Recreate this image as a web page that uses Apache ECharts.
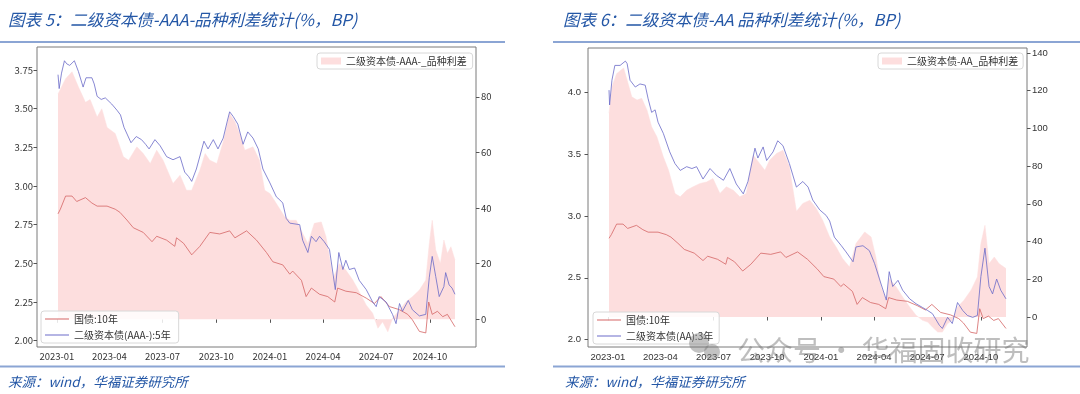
<!DOCTYPE html>
<html><head><meta charset="utf-8">
<script src="https://cdn.jsdelivr.net/npm/echarts@6/dist/echarts.min.js"></script>
<style>html,body{margin:0;padding:0;background:#fff;}#c{width:1080px;height:394px;}</style>
</head><body><div id="c"></div>
<script>
// ---------- data ----------
const govDates = ['2023-01-03','2023-01-07','2023-01-16','2023-01-27','2023-02-04','2023-02-19','2023-03-02','2023-03-11','2023-03-28','2023-04-11','2023-04-19','2023-05-01','2023-05-12','2023-05-29','2023-06-13','2023-06-21','2023-07-08','2023-07-22','2023-07-25','2023-08-06','2023-08-20','2023-09-03','2023-09-20','2023-10-07','2023-10-24','2023-11-02','2023-11-22','2023-12-09','2023-12-26','2024-01-06','2024-01-23','2024-02-04','2024-02-09','2024-02-24','2024-03-03','2024-03-12','2024-03-26','2024-04-09','2024-04-21','2024-04-26','2024-05-10','2024-05-28','2024-06-14','2024-06-28','2024-07-09','2024-07-24','2024-08-10','2024-08-24','2024-09-01','2024-09-13','2024-09-24','2024-09-29','2024-10-05','2024-10-14','2024-10-23','2024-10-31','2024-11-13'];
const govYield = [2.82,2.85,2.935,2.935,2.90,2.925,2.89,2.87,2.87,2.85,2.83,2.78,2.73,2.70,2.64,2.675,2.65,2.61,2.665,2.63,2.555,2.61,2.70,2.69,2.71,2.665,2.71,2.65,2.57,2.51,2.49,2.43,2.45,2.39,2.285,2.34,2.30,2.285,2.25,2.34,2.32,2.31,2.275,2.24,2.285,2.22,2.20,2.17,2.135,2.06,2.05,2.25,2.17,2.19,2.155,2.17,2.09];

const aaaDates = ['2023-01-03','2023-01-05','2023-01-09','2023-01-14','2023-01-18','2023-01-23','2023-01-31','2023-02-07','2023-02-15','2023-02-20','2023-03-02','2023-03-06','2023-03-11','2023-03-18','2023-03-25','2023-04-05','2023-04-14','2023-04-20','2023-04-26','2023-05-02','2023-05-08','2023-05-17','2023-05-26','2023-06-02','2023-06-08','2023-06-18','2023-06-27','2023-07-08','2023-07-19','2023-07-31','2023-08-08','2023-08-15','2023-08-20','2023-08-28','2023-09-10','2023-09-17','2023-09-26','2023-10-04','2023-10-13','2023-10-20','2023-10-24','2023-10-30','2023-11-07','2023-11-16','2023-11-24','2023-12-03','2023-12-12','2023-12-20','2024-01-01','2024-01-12','2024-01-18','2024-01-23','2024-01-29','2024-02-04','2024-02-21','2024-02-26','2024-03-06','2024-03-12','2024-03-20','2024-03-26','2024-04-03','2024-04-12','2024-04-22','2024-04-28','2024-05-05','2024-05-10','2024-05-16','2024-05-25','2024-06-02','2024-06-14','2024-06-25','2024-07-01','2024-07-06','2024-07-18','2024-07-29','2024-08-04','2024-08-10','2024-08-15','2024-08-25','2024-09-01','2024-09-13','2024-09-24','2024-09-30','2024-10-05','2024-10-11','2024-10-17','2024-10-25','2024-10-28','2024-11-03','2024-11-08','2024-11-13'];
const aaaYield = [3.72,3.63,3.73,3.81,3.79,3.78,3.81,3.74,3.64,3.70,3.70,3.66,3.58,3.56,3.57,3.53,3.49,3.46,3.38,3.33,3.28,3.32,3.30,3.27,3.24,3.30,3.26,3.19,3.17,3.19,3.09,3.06,3.03,3.11,3.29,3.24,3.30,3.24,3.31,3.42,3.48,3.45,3.40,3.27,3.35,3.31,3.24,3.11,3.02,2.93,2.91,2.89,2.79,2.76,2.75,2.65,2.57,2.675,2.64,2.675,2.64,2.59,2.33,2.57,2.46,2.52,2.46,2.47,2.39,2.33,2.25,2.22,2.285,2.25,2.17,2.11,2.24,2.19,2.26,2.20,2.16,2.17,2.41,2.545,2.415,2.285,2.35,2.44,2.36,2.34,2.30];

const aaaSpreadDates = ['2023-01-03','2023-01-16','2023-01-27','2023-02-07','2023-02-19','2023-02-27','2023-03-11','2023-03-19','2023-03-28','2023-04-11','2023-04-25','2023-05-04','2023-05-18','2023-05-29','2023-06-10','2023-06-21','2023-07-02','2023-07-19','2023-07-31','2023-08-11','2023-08-20','2023-09-03','2023-09-12','2023-09-20','2023-10-02','2023-10-13','2023-10-24','2023-11-02','2023-11-10','2023-11-19','2023-12-03','2023-12-14','2023-12-23','2024-01-01','2024-01-12','2024-01-26','2024-02-04','2024-02-15','2024-02-26','2024-03-06','2024-03-17','2024-03-29','2024-04-06','2024-04-18','2024-04-29','2024-05-10','2024-05-22','2024-06-02','2024-06-14','2024-06-25','2024-07-04','2024-07-12','2024-07-21','2024-07-29','2024-08-10','2024-08-21','2024-09-01','2024-09-13','2024-09-24','2024-09-30','2024-10-05','2024-10-11','2024-10-19','2024-10-25','2024-10-31','2024-11-06','2024-11-13'];
const aaaSpread = [81,86.5,89,83.5,78,79,72.7,75.7,69,66.8,58.4,57.2,62,59.6,56,60.8,57.2,48.8,51.8,46.4,46.4,53.6,59.6,57.2,56,63.8,74,71,66.8,60.8,62,57.2,46.4,45.2,41.6,37,35.6,35.6,30.9,27.3,34.5,35,29.7,14.7,20,17.7,14.1,9.9,5.1,2.2,-3.2,-0.9,-4.5,0.4,3.3,6.3,8.1,10.5,14.1,27.3,35.6,24.9,20.1,28.5,23.7,26.1,21.3];

const aaDates = ['2023-01-03','2023-01-04','2023-01-08','2023-01-13','2023-01-22','2023-01-31','2023-02-03','2023-02-08','2023-02-17','2023-02-25','2023-03-06','2023-03-11','2023-03-17','2023-03-23','2023-03-28','2023-04-06','2023-04-17','2023-04-26','2023-05-05','2023-05-16','2023-05-25','2023-06-02','2023-06-13','2023-06-25','2023-07-06','2023-07-18','2023-07-29','2023-08-09','2023-08-21','2023-08-29','2023-09-10','2023-09-15','2023-09-24','2023-09-30','2023-10-11','2023-10-19','2023-10-28','2023-11-08','2023-11-20','2023-12-01','2023-12-10','2023-12-18','2023-12-30','2024-01-10','2024-01-16','2024-01-24','2024-02-05','2024-02-13','2024-02-25','2024-03-01','2024-03-13','2024-03-24','2024-04-02','2024-04-13','2024-04-22','2024-04-27','2024-05-03','2024-05-12','2024-05-20','2024-06-01','2024-06-12','2024-06-23','2024-07-02','2024-07-10','2024-07-22','2024-07-27','2024-08-05','2024-08-13','2024-08-22','2024-08-31','2024-09-08','2024-09-17','2024-09-25','2024-10-01','2024-10-08','2024-10-15','2024-10-21','2024-10-28','2024-11-04','2024-11-13'];
const aaYield = [4.02,3.90,4.10,4.22,4.22,4.255,4.235,4.10,4.045,4.07,4.06,3.95,3.84,3.86,3.76,3.67,3.52,3.425,3.37,3.40,3.385,3.40,3.30,3.385,3.33,3.29,3.385,3.26,3.18,3.28,3.55,3.47,3.56,3.45,3.52,3.61,3.57,3.425,3.235,3.28,3.235,3.13,3.05,3.005,2.96,2.83,2.76,2.71,2.63,2.75,2.76,2.72,2.615,2.45,2.32,2.55,2.43,2.48,2.40,2.33,2.29,2.26,2.235,2.21,2.115,2.09,2.18,2.13,2.30,2.235,2.195,2.18,2.195,2.51,2.74,2.43,2.37,2.49,2.40,2.33];

const aaSpreadDates = ['2023-01-03','2023-01-08','2023-01-16','2023-01-28','2023-02-03','2023-02-11','2023-02-20','2023-02-28','2023-03-09','2023-03-17','2023-03-26','2023-04-06','2023-04-15','2023-04-26','2023-05-05','2023-05-16','2023-05-27','2023-06-08','2023-06-19','2023-06-30','2023-07-12','2023-07-23','2023-08-04','2023-08-15','2023-08-26','2023-09-07','2023-09-18','2023-09-27','2023-10-05','2023-10-17','2023-10-28','2023-11-08','2023-11-20','2023-12-01','2023-12-13','2023-12-24','2024-01-04','2024-01-16','2024-01-27','2024-02-07','2024-02-19','2024-03-01','2024-03-16','2024-03-27','2024-04-04','2024-04-13','2024-04-22','2024-04-27','2024-05-09','2024-05-20','2024-06-01','2024-06-12','2024-06-23','2024-07-02','2024-07-10','2024-07-19','2024-07-27','2024-08-05','2024-08-13','2024-08-22','2024-09-02','2024-09-14','2024-09-25','2024-10-01','2024-10-08','2024-10-15','2024-10-24','2024-11-01','2024-11-13'];
const aaSpread = [108,122,129,132,125.6,116.7,115,115.9,109.7,100.8,95.5,84.9,77.8,65.5,63.7,67.2,69,70.8,71.6,73.4,65.5,69,67.2,63.7,65.5,85.8,81.4,77.8,83.1,86.7,88.4,79.6,56,60.2,61.9,57.5,51.3,42.4,37.1,31,26.5,38.9,45.1,42.4,31.8,15.9,8.9,20.4,15.9,10.6,5.3,0.9,-1.75,-2.7,-5.3,-8,-8,-3.5,-1.75,5.3,8.9,14.2,21.2,38.9,48.6,28.3,31.8,28.3,25.7];

const xTickDates = ['2023-01-01','2023-04-01','2023-07-01','2023-10-01','2024-01-01','2024-04-01','2024-07-01','2024-10-01'];
const left1Ticks = [2.00,2.25,2.50,2.75,3.00,3.25,3.50,3.75];
const right1Ticks = [0,20,40,60,80];
const left2Ticks = [2.0,2.5,3.0,3.5,4.0];
const right2Ticks = [0,20,40,60,80,100,120,140];

// ---------- helpers ----------
const ts = s => { const p = s.split('-').map(Number); return new Date(p[0], p[1]-1, p[2]).getTime(); };
const zip = (d, v) => d.map((s, i) => [ts(s), v[i]]);
const pad = n => (n < 10 ? '0' : '') + n;
const fmtMonth = v => { const d = new Date(v); return d.getFullYear() + '-' + pad(d.getMonth() + 1); };
const xTicks = xTickDates.map(ts);

const PINK = '#fddede', RED = '#d46565', BLUE = '#6a6ac8';
const TITLE = '#2457a6';
const CJK = '"Noto Sans CJK SC"';

function xAxisFor(i, font) {
  return {
    type: 'value', gridIndex: i, min: ts('2022-11-28'), max: ts('2024-12-19'), scale: true,
    axisLine: { show: false }, splitLine: { show: false },
    axisTick: { show: true, customValues: xTicks, length: 3.5, lineStyle: { color: '#555' } },
    axisLabel: { customValues: xTicks, formatter: fmtMonth, fontSize: 9.5, fontFamily: font, color: '#333', margin: 5 }
  };
}
function yAxisFor(i, pos, min, max, ticks, dec, font, margin) {
  return {
    type: 'value', gridIndex: i, position: pos, min: min, max: max,
    axisLine: { show: false }, splitLine: { show: false },
    axisTick: { show: true, customValues: ticks, length: 3.5, lineStyle: { color: '#555' } },
    axisLabel: { customValues: ticks, formatter: v => dec >= 0 ? Number(v).toFixed(dec) : String(v), fontSize: 9.5, fontFamily: font, color: '#333', margin: margin }
  };
}
function lineSeries(name, xi, yi, data, color, z) {
  return { name: name, type: 'line', xAxisIndex: xi, yAxisIndex: yi, data: data, symbol: 'none', showSymbol: false,
    lineStyle: { color: color, width: 0.8 }, itemStyle: { color: color }, z: z, animation: false };
}
function areaSeries(name, xi, yi, data) {
  return { name: name, type: 'line', xAxisIndex: xi, yAxisIndex: yi, data: data, symbol: 'none', showSymbol: false,
    lineStyle: { color: PINK, width: 0.5 }, itemStyle: { color: PINK },
    areaStyle: { color: PINK, opacity: 1, origin: 'auto' }, z: 1, animation: false };
}
const legendBase = {
  borderColor: '#d8d8d8', borderWidth: 1, borderRadius: 3, backgroundColor: 'rgba(255,255,255,0.85)',
  textStyle: { fontSize: 10, fontFamily: CJK, color: '#333', lineHeight: 12 },
  selectedMode: false, itemWidth: 20
};

const option = {
  animation: false,
  grid: [
    { left: 37, top: 47, width: 439, height: 300, show: true, borderColor: '#7a7a7a', borderWidth: 1, backgroundColor: 'transparent' },
    { left: 588, top: 48, width: 439, height: 299, show: true, borderColor: '#7a7a7a', borderWidth: 1, backgroundColor: 'transparent' }
  ],
  xAxis: [xAxisFor(0, CJK), xAxisFor(1, '"Liberation Sans"')],
  yAxis: [
    yAxisFor(0, 'left', 1.959, 3.899, left1Ticks, 2, CJK, 4),
    yAxisFor(0, 'right', -9.95, 97.9, right1Ticks, -1, CJK, 5),
    yAxisFor(1, 'left', 1.94, 4.361, left2Ticks, 1, '"Liberation Sans"', 7),
    yAxisFor(1, 'right', -15.9, 142.6, right2Ticks, -1, '"Liberation Sans"', 5)
  ],
  legend: [
    Object.assign({}, legendBase, { left: 317, top: 53, padding: [2, 6, 2, 4], itemHeight: 7,
      data: [{ name: '二级资本债-AAA-_品种利差', icon: 'rect' }] }),
    Object.assign({}, legendBase, { left: 41, top: 311, orient: 'vertical', padding: [2, 8, 2, 4], itemWidth: 24, itemHeight: 1, itemGap: 4,
      data: [{ name: '国债:10年', icon: 'rect' }, { name: '二级资本债(AAA-):5年', icon: 'rect' }] }),
    Object.assign({}, legendBase, { left: 878, top: 53, padding: [2, 5, 2, 4], itemHeight: 7,
      data: [{ name: '二级资本债-AA_品种利差', icon: 'rect' }] }),
    Object.assign({}, legendBase, { left: 593, top: 312, orient: 'vertical', padding: [2, 6, 2, 4], itemWidth: 24, itemHeight: 1, itemGap: 4,
      data: [{ name: '国债:10年', icon: 'rect' }, { name: '二级资本债(AA):3年', icon: 'rect' }] })
  ],
  series: [
    areaSeries('二级资本债-AAA-_品种利差', 0, 1, zip(aaaSpreadDates, aaaSpread)),
    lineSeries('国债:10年', 0, 0, zip(govDates, govYield), RED, 3),
    lineSeries('二级资本债(AAA-):5年', 0, 0, zip(aaaDates, aaaYield), BLUE, 4),
    areaSeries('二级资本债-AA_品种利差', 1, 3, zip(aaSpreadDates, aaSpread)),
    lineSeries('国债:10年', 1, 2, zip(govDates, govYield), RED, 3),
    lineSeries('二级资本债(AA):3年', 1, 2, zip(aaDates, aaYield), BLUE, 4)
  ],
  graphic: [
    { type: 'text', x: 8, y: 20, style: { text: '图表 5：二级资本债-AAA-品种利差统计(%，BP)', font: 'italic 16.5px ' + CJK, fill: TITLE, verticalAlign: 'middle' } },
    { type: 'text', x: 563, y: 20, style: { text: '图表 6：二级资本债-AA 品种利差统计(%，BP)', font: 'italic 16.5px ' + CJK, fill: TITLE, verticalAlign: 'middle' } },
    { type: 'line', shape: { x1: 0, y1: 42, x2: 505, y2: 42 }, style: { stroke: '#8ba5d4', lineWidth: 2 } },
    { type: 'line', shape: { x1: 553, y1: 42, x2: 1080, y2: 42 }, style: { stroke: '#8ba5d4', lineWidth: 2 } },
    { type: 'line', shape: { x1: 0, y1: 366.5, x2: 505, y2: 366.5 }, style: { stroke: '#8ba5d4', lineWidth: 2 } },
    { type: 'line', shape: { x1: 553, y1: 366.5, x2: 1080, y2: 366.5 }, style: { stroke: '#8ba5d4', lineWidth: 2 } },
    { type: 'text', x: 8, y: 382, style: { text: '来源：wind，华福证券研究所', font: 'italic 13.5px ' + CJK, fill: TITLE, verticalAlign: 'middle' } },
    { type: 'text', x: 565, y: 382, style: { text: '来源：wind，华福证券研究所', font: 'italic 13.5px ' + CJK, fill: TITLE, verticalAlign: 'middle' } },
    { type: 'circle', z: 100, shape: { cx: 699, cy: 343, r: 10 }, style: { fill: 'rgba(120,120,120,0.45)' } },
    { type: 'circle', z: 100, shape: { cx: 712, cy: 352, r: 8 }, style: { fill: 'rgba(120,120,120,0.45)' } },
    { type: 'text', z: 100, x: 737, y: 350, style: { text: '公众号 · 华福固收研究', font: '28px ' + CJK, fill: 'rgba(110,110,110,0.45)', verticalAlign: 'middle' } }
  ]
};
const chart = echarts.init(document.getElementById('c'), null, { renderer: 'canvas' });
chart.setOption(option);
</script>
</body></html>
